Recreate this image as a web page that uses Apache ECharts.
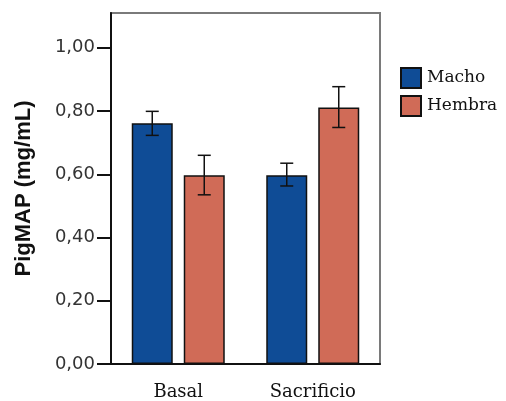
<!DOCTYPE html>
<html><head><meta charset="utf-8">
<script src="https://cdn.jsdelivr.net/npm/echarts@6/dist/echarts.min.js"></script>
<style>html,body{margin:0;padding:0;background:#fff}#c{width:506px;height:401px}</style>
</head><body><div id="c"></div>
<script>
var categories = ['Basal', 'Sacrificio'];
var machoMean = [0.761, 0.597];
var machoLow = [0.723, 0.563];
var machoHigh = [0.799, 0.635];
var hembraMean = [0.597, 0.811];
var hembraLow = [0.535, 0.748];
var hembraHigh = [0.660, 0.877];
var yTicks = [0, 0.2, 0.4, 0.6, 0.8, 1.0];

var chart = echarts.init(document.getElementById('c'));
var BW = 41, GAP = 11;
function errSeries(low, high, offset) {
  return {
    type: 'custom', z: 10,
    data: categories.map(function (c, i) { return [i, low[i], high[i]]; }),
    renderItem: function (params, api) {
      var x = api.coord([api.value(0), 0])[0] + offset;
      var lo = api.coord([api.value(0), api.value(1)])[1];
      var hi = api.coord([api.value(0), api.value(2)])[1];
      var hw = 6.5;
      var st = { stroke: '#111', lineWidth: 1.5 };
      return { type: 'group', children: [
        { type: 'line', shape: { x1: x, y1: lo, x2: x, y2: hi }, style: st },
        { type: 'line', shape: { x1: x - hw, y1: lo, x2: x + hw, y2: lo }, style: st },
        { type: 'line', shape: { x1: x - hw, y1: hi, x2: x + hw, y2: hi }, style: st }
      ]};
    }
  };
}
var off = (BW + GAP) / 2;
chart.setOption({
  animation: false,
  grid: { left: 111, right: 126, top: 13, bottom: 35, show: true, borderColor: '#7a7a7a', borderWidth: 2 },
  legend: {
    orient: 'vertical', left: 395, top: 62, itemWidth: 20, itemHeight: 20, itemGap: 6,
    icon: 'rect',
    textStyle: { fontFamily: 'DejaVu Serif', fontSize: 17, color: '#111', padding: [0, 0, 0, 1] },
    data: ['Macho', 'Hembra']
  },
  xAxis: {
    type: 'category', data: categories,
    axisLine: { lineStyle: { color: '#111', width: 2 } },
    axisTick: { alignWithLabel: true, length: 13, lineStyle: { color: '#111', width: 2 } },
    axisLabel: { fontFamily: 'DejaVu Serif', fontSize: 18, color: '#111', margin: 19 }
  },
  yAxis: {
    type: 'value', min: 0, max: 1.11, interval: 0.2,
    name: 'PigMAP (mg/mL)', nameLocation: 'middle', nameGap: 76,
    nameTextStyle: { fontFamily: 'Liberation Sans', fontWeight: 'bold', fontSize: 22, color: '#111' },
    splitLine: { show: false },
    axisLine: { show: true, lineStyle: { color: '#111', width: 2 } },
    axisTick: { show: true, length: 14, customValues: yTicks, lineStyle: { color: '#111', width: 2 } },
    axisLabel: {
      fontFamily: 'DejaVu Sans', fontSize: 18, color: '#333', margin: 16,
      customValues: yTicks,
      formatter: function (v) { return v.toFixed(2).replace('.', ','); }
    }
  },
  series: [
    { name: 'Macho', type: 'bar', data: machoMean, barWidth: BW, barGap: (GAP / BW * 100) + '%',
      itemStyle: { color: '#0f4c96', borderColor: '#111', borderWidth: 1.5 } },
    { name: 'Hembra', type: 'bar', data: hembraMean, barWidth: BW,
      itemStyle: { color: '#d06b57', borderColor: '#111', borderWidth: 1.5 } },
    errSeries(machoLow, machoHigh, -off),
    errSeries(hembraLow, hembraHigh, off)
  ]
});
</script></body></html>
